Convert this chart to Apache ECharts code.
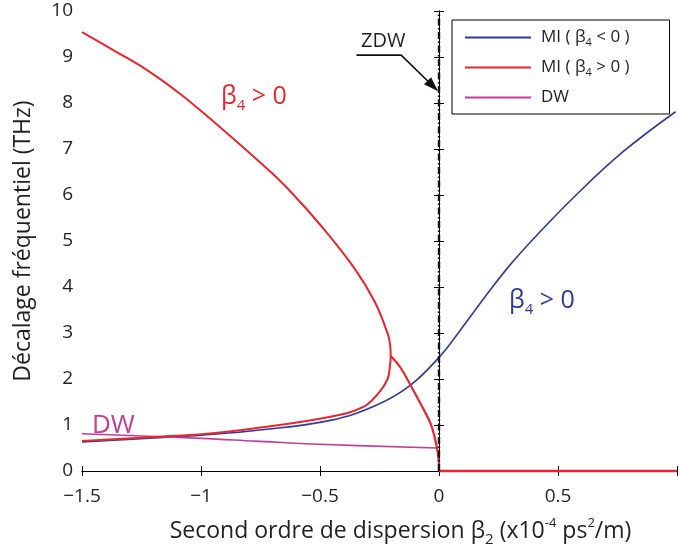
<!DOCTYPE html>
<html><head><meta charset="utf-8">
<script src="https://cdn.jsdelivr.net/npm/echarts@6/dist/echarts.min.js"></script>
<style>html,body{margin:0;padding:0;background:#fff}#c{width:680px;height:552px}</style>
</head><body><div id="c"></div>
<script>
// ---- data ----
const xTicks = [-1.5, -1, -0.5, 0, 0.5];
const yTicks = [0, 1, 2, 3, 4, 5, 6, 7, 8, 9, 10];

// MI (beta4 < 0) – blue
const blueX = [-1.5, -1.161, -1.0, -0.773, -0.456, -0.259, -0.121, 0, 0.088, 0.2, 0.297, 0.410, 0.576, 0.771, 0.994];
const blueY = [0.63, 0.73, 0.78, 0.88, 1.10, 1.44, 1.86, 2.47, 3.05, 3.83, 4.47, 5.12, 6.00, 6.93, 7.81];

// MI (beta4 > 0) – red, folded branch (upper branch down to the turning point, then lower branch back)
const redFoldX = [-1.5, -1.362, -1.222, -1.083, -0.944, -0.735, -0.632, -0.492, -0.353, -0.269, -0.214, -0.205, -0.203, -0.207, -0.216, -0.250, -0.316, -0.456, -0.773, -1.0, -1.161, -1.5];
const redFoldY = [9.54, 9.13, 8.70, 8.18, 7.58, 6.63, 6.12, 5.31, 4.39, 3.67, 2.96, 2.72, 2.50, 2.25, 2.00, 1.72, 1.40, 1.18, 0.93, 0.80, 0.75, 0.65];

// MI (beta4 > 0) – red, branch falling to zero at the ZDW
const redDropX = [-0.203, -0.162, -0.121, -0.065, -0.037, -0.020, -0.003, 0];
const redDropY = [2.50, 2.25, 1.88, 1.34, 1.05, 0.77, 0.32, 0];
// MI (beta4 > 0) – red, zero for beta2 > 0
const redZeroX = [0, 1.0];
const redZeroY = [0, 0];

// DW – magenta
const dwX = [-1.5, -1.0, -0.773, -0.5, -0.01];
const dwY = [0.81, 0.71, 0.65, 0.58, 0.50];

// ZDW marker
const zdwX = [0, 0];
const zdwY = [0, 10];
const zdwLeaderX = [-0.347, -0.159, -0.014];
const zdwLeaderY = [9.04, 9.04, 8.31];
const zdwTipX = [-0.026];
const zdwTipY = [8.37];

const names = ['MI (β4 < 0)', 'MI (β4 > 0)', 'DW'];
const legendRich = {
  'MI (β4 < 0)': '{t|MI ( β}{s|4}{t| < 0 )}',
  'MI (β4 > 0)': '{t|MI ( β}{s|4}{t| > 0 )}',
  'DW': '{t|DW}'
};

const BLUE = '#2e3a96', RED = '#e8262d', MAG = '#c43c98', INK = '#231f20';
const FONT = 'Open Sans';

function pairs(xs, ys) { return xs.map((x, i) => [x, ys[i]]); }
function fmtNum(v) { return String(v).replace('-', '\u2212'); }

const chart = echarts.init(document.getElementById('c'), null, {renderer: 'canvas'});

const axisCommon = {
  axisLine: {show: true, lineStyle: {color: '#000', width: 1}},
  axisTick: {show: true, inside: true, length: 5, lineStyle: {color: '#000'}},
  splitLine: {show: false}
};

const option = {
  animation: false,
  backgroundColor: '#fff',
  textStyle: {fontFamily: FONT},
  grid: {left: 82, top: 11, width: 597, height: 467, containLabel: false},
  xAxis: [
    Object.assign({
      type: 'value', min: -1.5, max: 1, interval: 0.5, position: 'bottom',
      axisLabel: {color: INK, fontSize: 19, fontFamily: FONT, margin: 16,
        formatter: v => xTicks.includes(v) ? fmtNum(v) : ''},
      name: '{t|Second ordre de dispersion β}{sb|2}{t| (x10}{sp|-4}{t| ps}{sp|2}{t|/m)}',
      nameLocation: 'middle', nameGap: 44,
      nameTextStyle: {color: INK, fontFamily: FONT, padding: [0, 0, 0, 42], rich: {
        t: {fontSize: 23, lineHeight: 32, verticalAlign: 'middle', color: INK, fontFamily: FONT},
        sb: {fontSize: 15, lineHeight: 15, verticalAlign: 'bottom', color: INK, fontFamily: FONT},
        sp: {fontSize: 13, lineHeight: 13, verticalAlign: 'top', color: INK, fontFamily: FONT, padding: [2, 0, 0, 0]}
      }}
    }, axisCommon),
    Object.assign({
      type: 'value', min: -1.5, max: 1, interval: 0.5, position: 'top',
      axisLabel: {show: false}
    }, axisCommon)
  ],
  yAxis: [
    Object.assign({
      type: 'value', min: 0, max: 10, interval: 1, position: 'left',
      axisLabel: {color: INK, fontSize: 19, fontFamily: FONT, margin: 9,
        formatter: v => yTicks.includes(v) ? fmtNum(v) : ''},
      name: 'Décalage fréquentiel (THz)',
      nameLocation: 'middle', nameGap: 47, nameRotate: 90,
      nameTextStyle: {color: INK, fontSize: 23, fontFamily: FONT}
    }, axisCommon),
    Object.assign({
      type: 'value', min: 0, max: 10, interval: 1, position: 'right',
      axisLabel: {show: false}
    }, axisCommon)
  ],
  legend: {
    data: names, orient: 'vertical', left: 452, top: 20,
    icon: 'rect', itemWidth: 66, itemHeight: 2, itemGap: 11,
    padding: [9, 40, 8, 13],
    borderColor: '#000', borderWidth: 1, backgroundColor: '#fff',
    selectedMode: false,
    formatter: n => legendRich[n],
    textStyle: {color: INK, fontFamily: FONT, padding: [0, 0, 0, 5], rich: {
      t: {fontSize: 17, lineHeight: 21, verticalAlign: 'middle', color: INK, fontFamily: FONT},
      s: {fontSize: 11, lineHeight: 11, verticalAlign: 'bottom', color: INK, fontFamily: FONT}
    }}
  },
  series: [
    {name: names[0], type: 'line', data: pairs(blueX, blueY), showSymbol: false, smooth: 0.4,
      lineStyle: {color: BLUE, width: 1.6}, itemStyle: {color: BLUE}, z: 3},
    {name: names[1], type: 'line', data: pairs(redFoldX, redFoldY), showSymbol: false, smooth: 0.4,
      lineStyle: {color: RED, width: 2}, itemStyle: {color: RED}, z: 4},
    {name: names[1], type: 'line', data: pairs(redDropX, redDropY), showSymbol: false, smooth: 0.4, clip: false,
      lineStyle: {color: RED, width: 2.2}, itemStyle: {color: RED}, z: 4},
    {name: names[1], type: 'line', data: pairs(redZeroX, redZeroY), showSymbol: false, clip: false,
      lineStyle: {color: RED, width: 2.6}, itemStyle: {color: RED}, z: 4},
    {name: names[2], type: 'line', data: pairs(dwX, dwY), showSymbol: false, smooth: 0.4,
      lineStyle: {color: MAG, width: 1.6}, itemStyle: {color: MAG}, z: 3},
    {name: 'ZDW', type: 'line', data: pairs(zdwX, zdwY), showSymbol: false, clip: false,
      lineStyle: {color: '#111', width: 2.4, type: [7, 2.5, 1.5, 2.5]}, z: 6},
    {name: 'ZDWleader', type: 'line', data: pairs(zdwLeaderX, zdwLeaderY), showSymbol: false,
      lineStyle: {color: '#111', width: 1.6}, z: 6},
    {name: 'ZDWtip', type: 'scatter', data: pairs(zdwTipX, zdwTipY), symbol: 'triangle',
      symbolSize: [10, 15], symbolRotate: -135, itemStyle: {color: '#111', opacity: 1}, z: 7}
  ],
  graphic: [
    {type: 'text', left: 221, top: 84, z: 10, style: {
      text: '{b|β}{s|4}{b| > 0}', fill: RED,
      rich: {b: {fontSize: 25, lineHeight: 34, verticalAlign: 'middle', fill: RED, fontFamily: FONT},
             s: {fontSize: 15, lineHeight: 15, verticalAlign: 'bottom', fill: RED, fontFamily: FONT}}}},
    {type: 'text', left: 509, top: 288, z: 10, style: {
      text: '{b|β}{s|4}{b| > 0}', fill: BLUE,
      rich: {b: {fontSize: 25, lineHeight: 34, verticalAlign: 'middle', fill: BLUE, fontFamily: FONT},
             s: {fontSize: 15, lineHeight: 15, verticalAlign: 'bottom', fill: BLUE, fontFamily: FONT}}}},
    {type: 'text', left: 92, top: 413, z: 10, style: {
      text: 'DW', fill: MAG, fontSize: 26, fontFamily: FONT}},
    {type: 'text', left: 361, top: 31, z: 10, style: {
      text: 'ZDW', fill: INK, fontSize: 20, fontFamily: FONT}}
  ]
};
chart.setOption(option);
</script>
</body></html>
